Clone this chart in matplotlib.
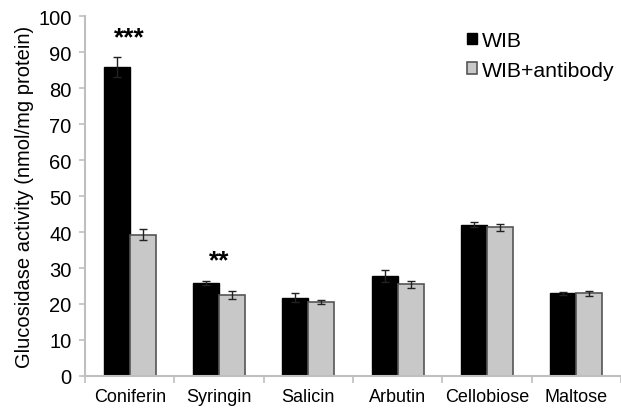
import matplotlib
matplotlib.use("Agg")
import matplotlib.pyplot as plt
import numpy as np

categories = ["Coniferin", "Syringin", "Salicin", "Arbutin", "Cellobiose", "Maltose"]
wib = [85.8, 25.8, 21.8, 27.8, 42.0, 23.0]
wib_err = [2.7, 0.5, 1.2, 1.7, 0.7, 0.4]
wib_ab = [39.2, 22.5, 20.5, 25.5, 41.3, 23.0]
wib_ab_err = [1.5, 1.0, 0.5, 1.0, 1.0, 0.7]
stars = ["***", "**", "", "", "", ""]
star_y = [94, 32, 0, 0, 0, 0]

plt.rcParams['font.family'] = ['Liberation Sans', 'DejaVu Sans']
fig = plt.figure(figsize=(6.21, 4.10), dpi=100)
ax = fig.add_axes([0.137, 0.0805, 0.863, 0.878])

x = np.arange(len(categories))
w = 0.29
ax.bar(x - w/2, wib, w, color="black", edgecolor="black", linewidth=1, label="WIB", zorder=2)
ax.bar(x + w/2, wib_ab, w, color="#c8c8c8", edgecolor="#555555", linewidth=1.2, label="WIB+antibody", zorder=2)
ax.errorbar(x - w/2, wib, yerr=wib_err, fmt="none", ecolor="#222222", elinewidth=1, capsize=3, capthick=1, zorder=3)
ax.errorbar(x + w/2, wib_ab, yerr=wib_ab_err, fmt="none", ecolor="#222222", elinewidth=1, capsize=3, capthick=1, zorder=3)

for xi, s, sy in zip(x, stars, star_y):
    if s:
        ax.text(xi, sy, s, ha="center", va="center", fontsize=19, fontweight="bold")

ax.set_xlim(-0.5, 5.456)
ax.set_ylim(0, 100)
ax.set_yticks(range(0, 101, 10))
ax.tick_params(axis="y", labelsize=14.5, color="#bfbfbf", length=4.3, width=1.2, pad=5.5)
ax.set_xticks(x)
ax.set_xticklabels(categories, fontsize=13)
ax.tick_params(axis="x", length=0, pad=9)
ax.set_xticks(np.arange(-0.5, 5.6, 1), minor=True)
ax.tick_params(axis="x", which="minor", length=5, color="#bfbfbf", width=1.2)
for sp in ["top", "right"]:
    ax.spines[sp].set_visible(False)
for sp in ["left", "bottom"]:
    ax.spines[sp].set_color("#bfbfbf")
    ax.spines[sp].set_linewidth(1.5)
ax.set_ylabel("Glucosidase activity (nmol/mg protein)", fontsize=14.5, labelpad=3)

leg = ax.legend(loc="upper left", bbox_to_anchor=(0.685, 1.0), frameon=False, fontsize=15.3,
                handlelength=0.45, handleheight=0.45, handletextpad=0.25, labelspacing=0.5, borderpad=0.2)

fig.savefig("out.png", dpi=100)
